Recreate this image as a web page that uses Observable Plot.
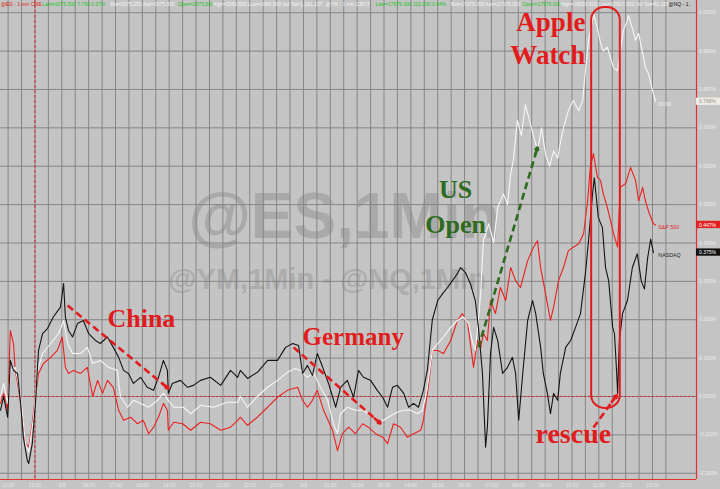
<!DOCTYPE html>
<html><head><meta charset="utf-8">
<script src="https://cdn.jsdelivr.net/npm/d3@7"></script>
<script src="https://cdn.jsdelivr.net/npm/@observablehq/plot@0.6"></script>
<style>html,body{margin:0;padding:0;background:#c4c4c4;overflow:hidden}</style>
</head><body><div id="chart"></div>
<script>
// time = minutes on the chart's compressed session axis (0 = 12:00 Fri), value = % change
const nasdaq = [[-17,-0.036],[-10,0.0],[-1,-0.054],[5,0.094],[12,0.068],[21,0.06],[28,-0.018],[34,-0.106],[43,-0.167],[46,-0.175],[54,-0.123],[61,-0.018],[68,0.12],[77,0.164],[88,0.177],[101,0.207],[117,0.233],[124,0.294],[128,0.207],[135,0.172],[144,0.155],[155,0.19],[168,0.198],[180,0.164],[195,0.146],[206,0.138],[222,0.155],[235,0.128],[247,0.102],[258,0.068],[269,0.06],[280,0.034],[296,0.05],[311,0.024],[325,0.016],[336,0.05],[347,0.094],[356,0.068],[358,0.008],[367,0.034],[385,0.042],[401,0.024],[414,0.029],[430,0.042],[452,0.05],[475,0.029],[497,0.068],[513,0.05],[519,0.068],[535,0.047],[557,0.063],[580,0.094],[602,0.094],[620,0.128],[636,0.138],[649,0.133],[658,0.06],[669,0.081],[680,0.055],[691,0.112],[703,0.076],[716,0.034],[732,-0.028],[743,0.024],[758,0.042],[772,-0.002],[783,0.068],[794,0.05],[810,0.042],[825,0.016],[837,-0.002],[848,-0.028],[859,0.024],[870,0.029],[884,0.008],[895,-0.028],[906,-0.018],[917,-0.028],[928,0.016],[937,0.07],[948,0.2],[960,0.25],[971,0.268],[982,0.284],[993,0.302],[1004,0.32],[1011,0.336],[1022,0.323],[1033,0.294],[1044,0.25],[1051,0.18],[1060,0.06],[1067,-0.132],[1071,-0.08],[1078,0.112],[1085,0.18],[1094,0.146],[1105,0.06],[1116,0.076],[1127,0.102],[1134,0.06],[1141,-0.062],[1150,0.06],[1161,0.198],[1172,0.25],[1179,0.216],[1190,0.128],[1196,0.06],[1205,0.008],[1212,-0.045],[1219,0.008],[1228,-0.01],[1234,0.06],[1246,0.128],[1257,0.146],[1268,0.18],[1279,0.216],[1290,0.32],[1297,0.406],[1306,0.528],[1310,0.57],[1319,0.466],[1328,0.44],[1335,0.336],[1342,0.302],[1351,0.18],[1355,0.164],[1360,0.06],[1362,0.008],[1366,0.146],[1373,0.216],[1384,0.25],[1395,0.336],[1406,0.372],[1415,0.30],[1422,0.28],[1429,0.36],[1436,0.41],[1442,0.375]];

const dow = [[-17,0.0],[-10,0.034],[-1,-0.018],[5,0.068],[16,0.076],[28,0.0],[39,-0.123],[46,-0.145],[57,-0.054],[66,0.068],[77,0.112],[95,0.138],[113,0.164],[124,0.198],[133,0.138],[144,0.112],[162,0.112],[177,0.128],[189,0.086],[206,0.094],[224,0.076],[244,0.068],[251,0.0],[267,-0.028],[280,-0.01],[296,-0.018],[314,-0.028],[334,-0.01],[347,0.008],[358,-0.01],[370,-0.028],[392,-0.028],[408,-0.045],[430,-0.023],[459,-0.028],[490,-0.015],[513,-0.015],[519,0.0],[535,-0.028],[557,0.0],[580,0.024],[602,0.042],[624,0.063],[642,0.073],[653,0.068],[669,0.05],[682,0.063],[698,0.024],[714,-0.01],[727,-0.071],[736,-0.097],[743,-0.045],[758,-0.028],[776,-0.036],[792,-0.036],[805,-0.045],[825,-0.062],[839,-0.062],[855,-0.05],[870,-0.041],[884,-0.036],[899,-0.036],[915,-0.045],[926,-0.036],[937,0.024],[948,0.12],[960,0.138],[973,0.155],[989,0.18],[1004,0.198],[1018,0.207],[1029,0.19],[1038,0.14],[1044,0.12],[1051,0.2],[1056,0.27],[1062,0.406],[1074,0.45],[1085,0.40],[1094,0.493],[1107,0.528],[1116,0.50],[1123,0.58],[1129,0.615],[1138,0.72],[1147,0.68],[1156,0.76],[1165,0.72],[1174,0.68],[1183,0.64],[1192,0.70],[1201,0.63],[1210,0.60],[1219,0.64],[1228,0.62],[1234,0.66],[1241,0.70],[1252,0.745],[1263,0.771],[1275,0.745],[1284,0.771],[1290,0.849],[1297,0.928],[1306,0.98],[1308,0.998],[1317,0.96],[1324,0.92],[1330,0.90],[1339,0.91],[1346,0.883],[1353,0.857],[1362,0.849],[1368,0.90],[1375,0.954],[1384,0.98],[1386,0.993],[1395,0.96],[1402,0.928],[1409,0.946],[1418,0.894],[1424,0.857],[1431,0.841],[1440,0.797],[1447,0.768]];

const sp500 = [[-17,-0.018],[-10,0.008],[-1,-0.036],[5,0.172],[12,0.138],[16,0.068],[23,0.024],[32,-0.054],[39,-0.123],[46,-0.132],[54,-0.071],[61,0.0],[68,0.06],[79,0.086],[95,0.102],[110,0.12],[121,0.155],[128,0.076],[135,0.06],[146,0.068],[162,0.06],[177,0.076],[189,0.0],[200,0.042],[211,0.008],[222,0.042],[235,0.024],[247,-0.036],[258,-0.062],[274,-0.054],[289,-0.071],[302,-0.062],[314,-0.097],[325,-0.08],[336,-0.054],[347,-0.018],[356,-0.036],[358,-0.088],[370,-0.067],[390,-0.071],[408,-0.088],[430,-0.067],[452,-0.071],[475,-0.088],[497,-0.08],[513,-0.062],[519,-0.054],[535,-0.075],[557,-0.054],[580,-0.028],[602,-0.002],[624,0.016],[647,0.024],[658,-0.01],[669,-0.028],[680,-0.01],[691,0.016],[705,-0.036],[725,-0.088],[736,-0.141],[747,-0.097],[761,-0.08],[776,-0.097],[792,-0.071],[805,-0.08],[821,-0.097],[837,-0.106],[848,-0.123],[861,-0.071],[877,-0.08],[892,-0.106],[906,-0.097],[922,-0.088],[928,-0.062],[939,0.024],[948,0.12],[960,0.12],[973,0.112],[989,0.146],[1004,0.198],[1015,0.216],[1027,0.19],[1033,0.138],[1040,0.076],[1049,0.146],[1056,0.128],[1062,0.164],[1071,0.146],[1078,0.25],[1089,0.216],[1100,0.284],[1112,0.25],[1123,0.336],[1134,0.302],[1145,0.284],[1161,0.354],[1174,0.389],[1183,0.406],[1190,0.336],[1201,0.268],[1212,0.198],[1219,0.233],[1230,0.302],[1241,0.336],[1252,0.38],[1263,0.389],[1275,0.398],[1286,0.424],[1295,0.51],[1301,0.597],[1308,0.633],[1317,0.571],[1324,0.563],[1330,0.528],[1339,0.493],[1346,0.459],[1353,0.424],[1362,0.389],[1368,0.545],[1380,0.555],[1391,0.597],[1402,0.563],[1409,0.51],[1418,0.545],[1424,0.51],[1433,0.476],[1442,0.45],[1447,0.447]];

const timeLabels = ["12:00","13:00","3/9","16:00","17:00","18:00","19:00","20:00","21:00","22:00","23:00","3/9","01:00","02:00","03:00","04:00","05:00","06:00","07:00","08:00","09:00","10:00","11:00","12:00","13:00"];
const valueTicks = [-0.2,-0.1,0,0.1,0.2,0.3,0.4,0.5,0.6,0.7,0.8,0.9,1.0];
const lastValues = [
  {name:"DOW", v:0.768, box:"#efece4", txt:"#8e8e8e", lab:"#f2f2f2"},
  {name:"S&P 500", v:0.447, box:"#e22222", txt:"#ffffff", lab:"#e22222"},
  {name:"NASDAQ", v:0.375, box:"#111111", txt:"#ffffff", lab:"#262626"}
];
const header = [
  {s:"@ES - 1 min CME", t:-16, c:"#e01a1a"},
  {s:"Last=2075.500 7.750 0.37%", t:77, c:"#22c322"},
  {s:"Bid=2075.250 Ask=2075.500", t:229, c:"#f4f4f4"},
  {s:"Open=2073.500", t:379, c:"#22c322"},
  {s:"High=2082.500 Low=2066.500 Vol Tot=1,161,157", t:457, c:"#f4f4f4"},
  {s:"@YM - 1 min CBOT", t:709, c:"#f4f4f4"},
  {s:"Last=17975.000 115.000 0.64%", t:821, c:"#22c322"},
  {s:"Bid=17975.000 Ask=17976.000", t:989, c:"#f4f4f4"},
  {s:"Open=17975.000", t:1149, c:"#22c322"},
  {s:"High=18020.000 Low=17817.000 Vol Tot=90,329", t:1234, c:"#f4f4f4"},
  {s:"@NQ - 1 .", t:1476, c:"#1a1a1a"}
];

const xMin = -17, xMax = 1538.3, yMin = -0.2163, yMax = 1.0318;
const timeTicks = timeLabels.map((_, i) => i * 60);
const gridTimes = d3.range(0, 1471, 30);
const RED = "#e21c1c", GREEN = "#2f6b1f";
const serif = "Liberation Serif, Times New Roman, serif";
const sans = "Liberation Sans, Arial, sans-serif";
const one = [0];
const label = (s, x, y, o) => Plot.text([s], {x, y, text: d => d, ...o});
const dashed = (x1, y1, x2, y2, stroke) => Plot.link(one, {x1, y1, x2, y2, stroke, strokeWidth: 2.6, strokeDasharray: "7,4"});
const head = (x1, y1, x2, y2, stroke) => Plot.arrow(one, {x1, y1, x2, y2, stroke, strokeWidth: 2.6, headLength: 11, headAngle: 60});
const ann = {fontFamily: serif, fontWeight: "bold", lineAnchor: "bottom"};

const chart = Plot.plot({
  width: 720, height: 489,
  marginLeft: 0, marginRight: 24, marginTop: 0, marginBottom: 10,
  x: {domain: [xMin, xMax], axis: null},
  y: {domain: [yMin, yMax], axis: null},
  color: {type: "identity"},
  style: {background: "#c4c4c4", fontFamily: sans, overflow: "visible"},
  marks: [
    label("@ES,1Min", 403, 0.412, {textAnchor: "start", lineAnchor: "bottom", fontSize: 64, fontWeight: "bold", fill: "#a9a9a9", fontFamily: sans}),
    label("@YM,1Min - @NQ,1Min", 358, 0.281, {textAnchor: "start", lineAnchor: "bottom", fontSize: 29, fontWeight: "bold", fill: "#adadad", fontFamily: sans}),
    Plot.ruleY(valueTicks, {stroke: "#868686", strokeWidth: 1}),
    Plot.ruleX(gridTimes, {stroke: "#868686", strokeWidth: 1}),
    Plot.ruleY([0], {stroke: "#d42a2a", strokeWidth: 1, strokeDasharray: "2,2"}),
    Plot.ruleX([60], {stroke: "#d42a2a", strokeWidth: 1, strokeDasharray: "3,2"}),
    Plot.ruleX([xMax], {stroke: "#e03030", strokeWidth: 1.2}),
    Plot.ruleY([yMin], {stroke: "#e03030", strokeWidth: 1.2}),
    Plot.line(sp500, {x: d => d[0], y: d => d[1], stroke: "#ec2020", strokeWidth: 1.1}),
    Plot.line(dow, {x: d => d[0], y: d => d[1], stroke: "#f6f6f6", strokeWidth: 1.1}),
    Plot.line(nasdaq, {x: d => d[0], y: d => d[1], stroke: "#141414", strokeWidth: 1.1}),
    // annotations
    label("China", 222, 0.18, {...ann, textAnchor: "start", fontSize: 26, fill: RED}),
    dashed(133, 0.237, 358, 0.021, RED), head(345, 0.034, 358, 0.021, RED),
    label("Germany", 658, 0.133, {...ann, textAnchor: "start", fontSize: 25, fill: RED}),
    dashed(638, 0.128, 832, -0.070, RED), head(819, -0.057, 832, -0.070, RED),
    label("US", 1000, 0.516, {...ann, textAnchor: "middle", fontSize: 26, fill: GREEN}),
    label("Open", 1000, 0.425, {...ann, textAnchor: "middle", fontSize: 26, fill: GREEN}),
    dashed(1051, 0.128, 1183, 0.649, GREEN), head(1178, 0.630, 1183, 0.649, GREEN),
    label("Apple", 1290, 0.952, {...ann, textAnchor: "end", fontSize: 27, fill: RED}),
    label("Watch", 1290, 0.866, {...ann, textAnchor: "end", fontSize: 27, fill: RED}),
    Plot.rect(one, {x1: 1304, x2: 1368, y1: -0.031, y2: 1.0135, rx: 13, fill: "none", stroke: RED, strokeWidth: 2}),
    label("rescue", 1263, -0.122, {...ann, textAnchor: "middle", fontSize: 28, fill: RED}),
    dashed(1308, -0.081, 1360, 0.003, RED), head(1349, -0.014, 1360, 0.003, RED),
    // series end labels
    Plot.text(lastValues, {x: 1453, y: d => d.v - 0.007, text: "name", fill: "lab", textAnchor: "start", fontSize: 5.3}),
    // right axis
    Plot.text(valueTicks, {x: xMax, y: d => d, text: d => d.toFixed(3) + "%", dx: 2.5, textAnchor: "start", fontSize: 5, fill: "#ededed"}),
    Plot.rect(lastValues, {x1: xMax, x2: 1600, y1: d => d.v - 0.0095, y2: d => d.v + 0.0095, fill: "box"}),
    Plot.text(lastValues, {x: xMax, y: d => d.v, text: d => d.v.toFixed(3) + "%", fill: "txt", dx: 2.5, textAnchor: "start", fontSize: 5}),
    // x axis labels
    Plot.text(timeTicks, {x: d => d, y: yMin, text: (d, i) => timeLabels[i], dy: 6, fontSize: 5, fill: "#e8e8e8"}),
    // header
    Plot.text(header, {x: "t", y: yMax, text: "s", fill: "c", textAnchor: "start", lineAnchor: "top", dy: 1.5, fontSize: 5})
  ]
});
document.getElementById("chart").appendChild(chart);
</script></body></html>
